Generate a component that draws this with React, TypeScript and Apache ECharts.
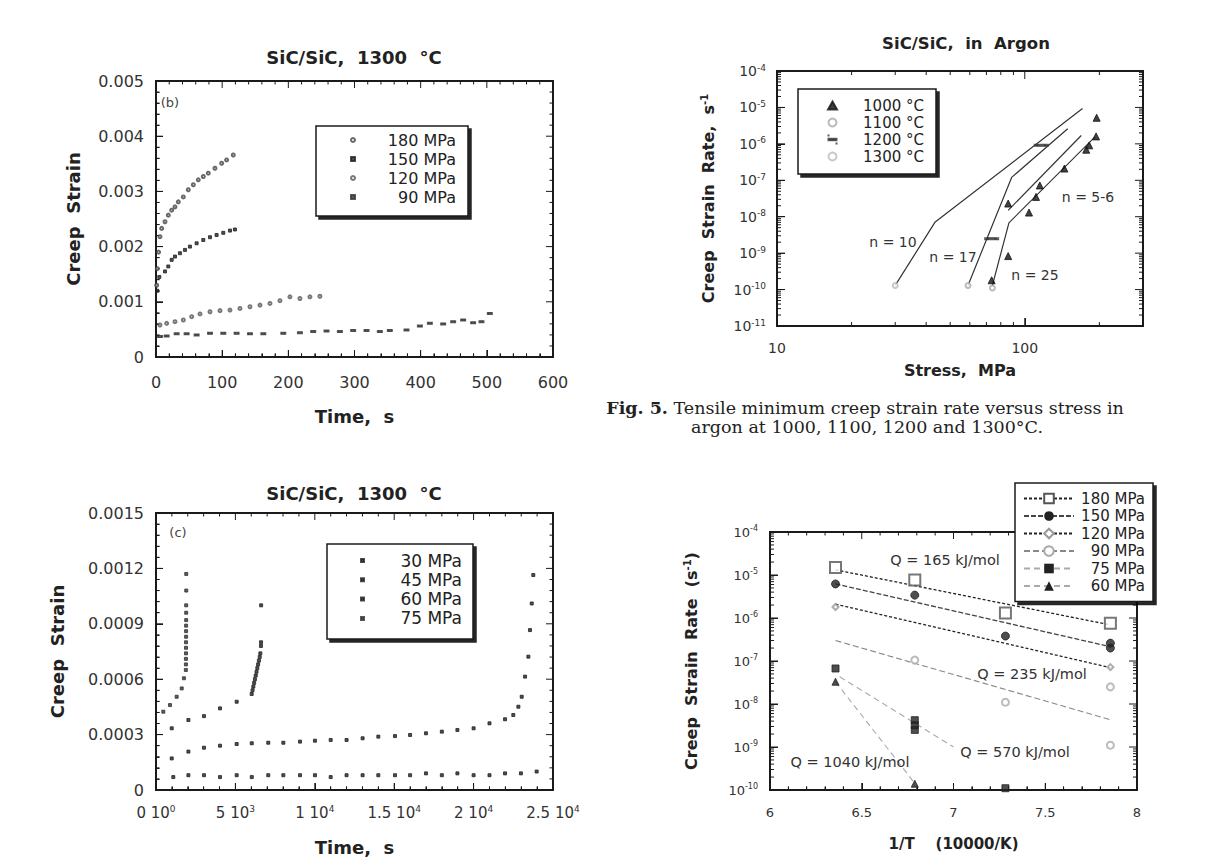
import React, { useEffect, useRef } from 'react';
import * as echarts from 'echarts';

const SANS = '"DejaVu Sans", "Liberation Sans", sans-serif';
const SERIF = '"DejaVu Serif", "Liberation Serif", serif';
const INK = '#1a1a1a';
const TXT = '#333';

// ---------- Panel (b): SiC/SiC, 1300 °C, creep strain vs time ----------
const bTime180 = [1, 2, 4, 6, 8.6, 13.6, 18.6, 23.7, 28.7, 33.7, 41.3, 48.8, 56.4, 63.9, 71.5, 79, 89.1, 99.2, 106.7, 116.8];
const bStrain180 = [0.0013, 0.0016, 0.0019, 0.00218, 0.00233, 0.00245, 0.00257, 0.00266, 0.00272, 0.00281, 0.0029, 0.00303, 0.00312, 0.00321, 0.00327, 0.00333, 0.00342, 0.00351, 0.00357, 0.00366];
const bTime150 = [2, 5, 13.6, 18.6, 23.7, 28.7, 36.2, 43.8, 51.3, 61.4, 71.5, 81.6, 91.6, 101.7, 111.8, 119.3];
const bStrain150 = [0.0012, 0.00145, 0.00155, 0.00164, 0.00176, 0.00182, 0.00188, 0.00194, 0.002, 0.00206, 0.00212, 0.00217, 0.00221, 0.00225, 0.00229, 0.00231];
const bTime120 = [6, 16.1, 28.7, 41.3, 53.9, 66.5, 81.6, 96.7, 111.8, 126.9, 142, 157.1, 172.2, 187.3, 202.4, 217.5, 232.6, 247.7];
const bStrain120 = [0.00058, 0.00061, 0.00064, 0.00067, 0.00073, 0.00078, 0.00082, 0.00084, 0.00085, 0.00088, 0.00091, 0.00094, 0.00097, 0.00102, 0.00109, 0.00106, 0.00109, 0.0011];
const bTime90 = [6, 16.1, 31.2, 46.3, 61.4, 81.6, 101.7, 121.8, 142, 162.2, 192.4, 217.5, 237.6, 257.7, 277.9, 298, 318.2, 338.3, 353.4, 378.6, 398.8, 413.9, 434, 449.1, 464.2, 479.3, 491.9, 504.5];
const bStrain90 = [0.00037, 0.00038, 0.00042, 0.00042, 0.0004, 0.00043, 0.00043, 0.00043, 0.00042, 0.00042, 0.00043, 0.00044, 0.00046, 0.00047, 0.00046, 0.00048, 0.00048, 0.00046, 0.00048, 0.00049, 0.00056, 0.00061, 0.0006, 0.00064, 0.00067, 0.00062, 0.00064, 0.00079];
const bLegend = ['180 MPa', '150 MPa', '120 MPa', '90 MPa'];

// ---------- Panel (Fig. 5): SiC/SiC in argon, rate vs stress ----------
const aLine1300 = [[30, 1.3e-10], [43.5, 7.2e-9], [171, 9.3e-6]];
const aLine1200 = [[59, 1.3e-10], [88.5, 1.2e-7], [149, 2.6e-6]];
const aLine1100 = [[74, 1.3e-10], [86.3, 6.8e-9], [192, 1.55e-6]];
const aLine1000 = [[85.7, 1.5e-8], [169, 1.7e-6]];
const aPts1000 = [[195, 5.2e-6], [194, 1.6e-6], [182, 9.1e-7], [177, 6.9e-7], [144.5, 2.1e-7], [115, 7.2e-8], [111, 3.5e-8], [104, 1.3e-8], [85.7, 2.3e-8], [85.7, 8.3e-10], [73.5, 1.8e-10]];
const aPts1100 = [[74, 1.1e-10], [59, 1.3e-10]];
const aPts1200 = [[116.6, 9.1e-7], [73.5, 2.5e-9]];
const aPts1300 = [[30, 1.3e-10]];
const aLegend = ['1000 °C', '1100 °C', '1200 °C', '1300 °C'];

// ---------- Panel (c): SiC/SiC, 1300 °C, long-time creep ----------
const cTime30 = [1090, 2040, 3020, 4030, 5080, 6030, 7070, 8020, 9070, 10010, 11000, 12000, 13010, 14000, 15050, 16000, 17000, 18000, 18980, 20000, 21000, 21980, 22980, 23970];
const cStrain30 = [0.00007, 0.00008, 0.00008, 0.00007, 0.00008, 0.00007, 0.00008, 0.00008, 0.00008, 0.00008, 0.00007, 0.00008, 0.00008, 0.00008, 0.00008, 0.00008, 0.00009, 0.00008, 0.00009, 0.00008, 0.00008, 0.00009, 0.00009, 0.0001];
const cTime45 = [990, 2040, 3020, 4030, 5080, 6030, 7070, 8020, 9070, 10010, 11000, 12000, 13010, 14000, 15050, 16000, 17000, 18000, 18980, 20000, 21000, 21980, 22500, 22820, 23030, 23240, 23450, 23550, 23660, 23760];
const cStrain45 = [0.000171, 0.000208, 0.000229, 0.00024, 0.000249, 0.000253, 0.000256, 0.000256, 0.000262, 0.000267, 0.000271, 0.000271, 0.00028, 0.000289, 0.000292, 0.000298, 0.000307, 0.000316, 0.000325, 0.000334, 0.000361, 0.000383, 0.000406, 0.000451, 0.000505, 0.000614, 0.000722, 0.000866, 0.00101, 0.001164];
const cTime60 = [990, 2040, 3020, 4030, 5080, 6025, 6080, 6130, 6180, 6230, 6280, 6330, 6380, 6430, 6480, 6530, 6570, 6610, 6615, 6620];
const cStrain60 = [0.000334, 0.000379, 0.0004, 0.000442, 0.000478, 0.00052, 0.00054, 0.00056, 0.00058, 0.0006, 0.00062, 0.00064, 0.00066, 0.00068, 0.0007, 0.00072, 0.00074, 0.00078, 0.0008, 0.001];
const cTime75 = [460, 880, 1300, 1620, 1760, 1880, 1885, 1885, 1890, 1890, 1890, 1895, 1895, 1895, 1900, 1900, 1900, 1905, 1905];
const cStrain75 = [0.000424, 0.00046, 0.000505, 0.00055, 0.000605, 0.00065, 0.00068, 0.00071, 0.00074, 0.00077, 0.0008, 0.00083, 0.00086, 0.00089, 0.00092, 0.00096, 0.001, 0.00108, 0.00117];
const cLegend = ['30 MPa', '45 MPa', '60 MPa', '75 MPa'];
const cXTickLabels = ['0 10^0', '5 10^3', '1 10^4', '1.5 10^4', '2 10^4', '2.5 10^4'];

// ---------- Panel (d): Arrhenius plot ----------
const dInvT = [6.357, 6.789, 7.283, 7.855];
const d180 = [1.5e-5, 7.7e-6, 1.3e-6, 7.5e-7];
const d150Pts = [[6.357, 6.2e-6], [6.789, 3.4e-6], [7.283, 3.8e-7], [7.855, 2.6e-7], [7.855, 2.0e-7]];
const d120Pts = [[6.357, 1.8e-6], [7.855, 7.2e-8]];
const d90Pts = [[6.789, 1.05e-7], [7.283, 1.1e-8], [7.855, 2.5e-8], [7.855, 1.1e-9]];
const d75Pts = [[6.357, 6.7e-8], [6.789, 4.2e-9], [6.789, 3.2e-9], [6.789, 2.5e-9], [7.283, 1.1e-10]];
const d60Pts = [[6.357, 3.3e-8], [6.789, 1.4e-10]];
const dFit180 = [[6.357, 1.32e-5], [7.855, 6.9e-7]];
const dFit150 = [[6.357, 6.2e-6], [7.855, 2.15e-7]];
const dFit120 = [[6.357, 2.1e-6], [7.855, 7.0e-8]];
const dFit90 = [[6.357, 3.0e-7], [7.855, 4.3e-9]];
const dFit75 = [[6.38, 4.3e-8], [7.0, 1.0e-9]];
const dFit60 = [[6.357, 3.3e-8], [6.78, 1.6e-10]];
const dLegend = ['180 MPa', '150 MPa', '120 MPa', '90 MPa', '75 MPa', '60 MPa'];

const zip = (xs: number[], ys: number[]) => xs.map((x, i) => [x, ys[i]]);

// ---------- helpers ----------
function axis(position: string, type: string, min: number, max: number, extra: any = {}) {
  const o: any = {
    gridIndex: 0, type, position, min, max,
    axisLine: { show: true, lineStyle: { color: INK, width: 2 } },
    axisTick: { show: true, inside: true, length: 7, lineStyle: { color: INK, width: 1 } },
    splitLine: { show: false },
    ...extra,
  };
  if (type === 'log') o.logBase = 10;
  return o;
}
const minor = { show: true, splitNumber: 5, length: 3.5, lineStyle: { color: INK, width: 1 } };
const supRich = (bs: number, ss: number) => ({
  b: { fontSize: bs, fontFamily: SANS, color: TXT },
  s: { fontSize: ss, fontFamily: SANS, color: TXT, padding: [0, 0, Math.round(bs * 0.5), 0] },
});
const powLabel = (v: number) => `{b|10}{s|${Math.round(Math.log10(v))}}`;
const nameStyle = (fs: number) => ({ fontFamily: SANS, fontWeight: 'bold', fontSize: fs, color: '#222' });
const lab = (fs: number, margin: number, extra: any = {}) => ({ show: true, fontFamily: SANS, fontSize: fs, color: TXT, margin, ...extra });

// tick positions along the frame (decoration, not data)
function linTicks(min: number, step: number, n: number, major: number) {
  const out: number[][] = [];
  for (let i = 0; i <= n; i++) out.push([min + i * step, i % major === 0 ? 7 : 3.5]);
  return out;
}
function logTicks(lo: number, hi: number) {
  const out: number[][] = [];
  for (let e = lo; e <= hi; e++) {
    out.push([Math.pow(10, e), 8]);
    if (e < hi) for (let m = 2; m <= 9; m++) out.push([m * Math.pow(10, e), 4]);
  }
  return out;
}
type Shift = (v: number, px: number) => number;
const linShift = (span: number, len: number): Shift => (v, px) => v + (px * span) / len;
const logShift = (decades: number, len: number): Shift => (v, px) => v * Math.pow(10, (px * decades) / len);

// frame ticks drawn as a broken line series on the panel's own axes
function tickLines(name: string, xt: number[][], yt: number[][], xr: number[], yr: number[], sx: Shift, sy: Shift) {
  const d: any[] = [];
  xt.forEach(([v, L]) => {
    d.push([v, yr[0]], [v, sy(yr[0], L)], [v, '-']);
    d.push([v, yr[1]], [v, sy(yr[1], -L)], [v, '-']);
  });
  yt.forEach(([v, L]) => {
    d.push([xr[0], v], [sx(xr[0], L), v], [xr[0], '-']);
    d.push([xr[1], v], [sx(xr[1], -L), v], [xr[1], '-']);
  });
  return {
    name, type: 'line', data: d, symbol: 'none', showSymbol: false, silent: true, z: 1, clip: false,
    connectNulls: false, lineStyle: { color: INK, width: 1 }, emphasis: { disabled: true },
  };
}
function legendBox(left: number, top: number, padding: number[], names: any[], o: any) {
  return {
    left, top, orient: 'vertical', padding, selectedMode: false,
    data: names, itemWidth: o.iw, itemHeight: o.ih, itemGap: o.gap,
    backgroundColor: '#fff', borderColor: INK, borderWidth: 1.5,
    shadowColor: 'rgba(0,0,0,0.85)', shadowOffsetX: 3, shadowOffsetY: 3, shadowBlur: 1,
    formatter: (n: string) => `{r|${n.split('#')[1]}}`,
    textStyle: { rich: { r: { width: o.tw, align: 'right', fontSize: o.fs, lineHeight: o.lh, fontFamily: SANS, color: '#222' } } },
  };
}
const DASH_ICON = 'path://M0,0h0.01v0.01h-0.01Z M0,4.2h10v1.6h-10Z M9.99,9.99h0.01v0.01h-0.01Z';
const txt = (text: string, x: number, y: number, fs: number, extra: any = {}) => ({
  type: 'text', x, y, z: 10,
  style: { text, fontFamily: SANS, fontSize: fs, fill: TXT, align: 'center', verticalAlign: 'middle', ...extra },
});
const ttl = (text: string, x: number, y: number, fs: number, extra: any = {}) => ({
  text, left: x, top: y, padding: 0, textAlign: 'center', textVerticalAlign: 'middle',
  textStyle: { fontFamily: SANS, fontSize: fs, color: TXT, fontWeight: 'normal', ...extra },
});
const gridBox = (left: number, top: number, width: number, height: number) => ({
  left, top, width, height, containLabel: false, show: true, borderColor: INK, borderWidth: 2, backgroundColor: 'transparent',
});
const dot = (name: string, data: any, symbol: string, size: any, color: string) => ({
  name, type: 'scatter', data, symbol, symbolSize: size, z: 3,
  itemStyle: { color, borderColor: color, borderWidth: 1 },
});
const line = (name: string, data: any, color: string, type: any, width = 1.2, symbol = 'none', symbolSize: any = 6, itemColor = color) => ({
  name, type: 'line', data, symbol, symbolSize, showSymbol: false,
  lineStyle: { color, type, width }, itemStyle: { color: itemColor, borderColor: itemColor }, z: 2,
});

// ---------- panel options ----------
function optB() {
  return {
    animation: false,
    grid: gridBox(156, 81, 397, 276),
    xAxis: axis('bottom', 'value', 0, 600, { interval: 100, minorTick: minor, axisLabel: lab(16, 17), name: 'Time,  s', nameLocation: 'middle', nameGap: 50, nameTextStyle: nameStyle(18) }),
    yAxis: axis('left', 'value', 0, 0.005, { interval: 0.001, minorTick: minor, axisLabel: lab(16, 12), name: 'Creep  Strain', nameLocation: 'middle', nameGap: 74, nameTextStyle: nameStyle(18) }),
    series: [
      dot('b#' + bLegend[0], zip(bTime180, bStrain180), 'emptyCircle', 3, '#444'),
      dot('b#' + bLegend[1], zip(bTime150, bStrain150), 'rect', 3, '#222'),
      dot('b#' + bLegend[2], zip(bTime120, bStrain120), 'emptyCircle', 3, '#555'),
      dot('b#' + bLegend[3], zip(bTime90, bStrain90), 'rect', [4, 2], '#333'),
      tickLines('tk-b', linTicks(0, 20, 30, 5), linTicks(0, 0.0002, 25, 5), [0, 600], [0, 0.005], linShift(600, 397), linShift(0.005, 276)),
    ],
    legend: legendBox(316, 126, [6, 12, 11, 34], bLegend.map((n, i) => ({ name: 'b#' + n, icon: i % 2 ? 'rect' : 'emptyCircle' })), { iw: 4, ih: 4, gap: 3, tw: 96, fs: 16, lh: 16 }),
    title: [
      ttl('SiC/SiC,  1300  °C', 354, 57, 18, { fontWeight: 'bold', color: '#222' }),
      ttl('(b)', 170, 102, 13, { color: '#444' }),
    ],
  };
}
function optA() {
  return {
    animation: false,
    grid: gridBox(777, 71, 366, 255),
    xAxis: axis('bottom', 'log', 10, 300, {
      axisTick: { show: true, inside: true, length: 8, lineStyle: { color: INK, width: 1 } },
      axisLabel: lab(14, 15, { formatter: (v: number) => (Math.abs(Math.log10(v) - Math.round(Math.log10(v))) < 1e-6 ? String(Math.round(v)) : '') }),
      name: 'Stress,  MPa', nameLocation: 'middle', nameGap: 36, nameTextStyle: nameStyle(16),
    }),
    yAxis: axis('left', 'log', 1e-11, 1e-4, {
      axisTick: { show: true, inside: true, length: 8, lineStyle: { color: INK, width: 1 } },
      axisLabel: lab(14, 11, { formatter: powLabel, rich: supRich(14, 9) }),
      name: 'Creep  Strain  Rate,  s{s|-1}', nameLocation: 'middle', nameGap: 60,
      nameTextStyle: { ...nameStyle(16), rich: { s: { fontSize: 10, fontWeight: 'bold', fontFamily: SANS, color: '#222', padding: [0, 0, 8, 0] } } },
    }),
    series: [
      line('a#n10', aLine1300, '#333', 'solid', 1.2),
      line('a#n17', aLine1200, '#333', 'solid', 1.2),
      line('a#n25', aLine1100, '#333', 'solid', 1.2),
      line('a#n56', aLine1000, '#333', 'solid', 1.2),
      dot('a#' + aLegend[0], aPts1000, 'triangle', 7, '#111'),
      dot('a#' + aLegend[1], aPts1100, 'emptyCircle', 5, '#aaa'),
      dot('a#' + aLegend[2], aPts1200, 'path://M0,0H12V2H0Z', [10, 2], '#333'),
      dot('a#' + aLegend[3], aPts1300, 'emptyCircle', 5, '#bbb'),
      tickLines('tk-a',
        [[10, 8], [20, 4], [30, 4], [40, 4], [50, 4], [60, 4], [70, 4], [80, 4], [90, 4], [100, 8], [200, 4]],
        logTicks(-11, -4), [10, 300], [1e-11, 1e-4], logShift(Math.log10(30), 366), logShift(7, 255)),
    ],
    legend: legendBox(798, 89, [9, 12, 10, 29], aLegend.map((n, i) => (i === 2 ? { name: 'a#' + n, icon: DASH_ICON } : { name: 'a#' + n })), { iw: 9, ih: 8, gap: 2, tw: 82, fs: 15, lh: 14 }),
    graphic: [
      txt('SiC/SiC,  in  Argon', 966, 43, 16.5, { fontWeight: 'bold', fill: '#222' }),
      txt('n = 10', 893, 242, 14),
      txt('n = 17', 953, 257, 14),
      txt('n = 25', 1035, 275, 14),
      txt('n = 5-6', 1088, 197, 14),
      {
        type: 'text', x: 865, y: 408, z: 10,
        style: {
          text: '{b|Fig. 5.} Tensile minimum creep strain rate versus stress in',
          fontFamily: SERIF, fontSize: 17.5, fill: '#222', align: 'center', verticalAlign: 'middle',
          rich: { b: { fontFamily: SERIF, fontSize: 17.5, fontWeight: 'bold', fill: '#222' } },
        },
      },
      txt('argon at 1000, 1100, 1200 and 1300°C.', 867, 427, 17.5, { fontFamily: SERIF, fill: '#222' }),
    ],
  };
}
function optC() {
  return {
    animation: false,
    grid: gridBox(156, 513, 397, 277),
    xAxis: axis('bottom', 'value', 0, 25000, {
      interval: 5000, minorTick: minor,
      axisLabel: lab(16, 14, {
        formatter: (v: number) => {
          const s = cXTickLabels[Math.round(v / 5000)] || '';
          const [a, e] = s.split('^');
          return `{b|${a}}{s|${e}}`;
        },
        rich: supRich(15, 9),
      }),
      name: 'Time,  s', nameLocation: 'middle', nameGap: 48, nameTextStyle: nameStyle(18),
    }),
    yAxis: axis('left', 'value', 0, 0.0015, { interval: 0.0003, minorTick: minor, axisLabel: lab(16, 12), name: 'Creep  Strain', nameLocation: 'middle', nameGap: 90, nameTextStyle: nameStyle(18) }),
    series: [
      dot('c#' + cLegend[0], zip(cTime30, cStrain30), 'rect', 3, '#222'),
      dot('c#' + cLegend[1], zip(cTime45, cStrain45), 'rect', 3, '#222'),
      dot('c#' + cLegend[2], zip(cTime60, cStrain60), 'rect', 3, '#222'),
      dot('c#' + cLegend[3], zip(cTime75, cStrain75), 'rect', 3, '#333'),
      tickLines('tk-c', linTicks(0, 1000, 25, 5), linTicks(0, 0.00006, 25, 5), [0, 25000], [0, 0.0015], linShift(25000, 397), linShift(0.0015, 277)),
    ],
    legend: legendBox(327, 544, [8, 11, 12, 33], cLegend.map((n) => ({ name: 'c#' + n, icon: 'rect' })), { iw: 3, ih: 3, gap: 2.3, tw: 93, fs: 17, lh: 16 }),
    title: [
      ttl('SiC/SiC,  1300  °C', 354, 493, 18, { fontWeight: 'bold', color: '#222' }),
      ttl('(c)', 178, 532, 13, { color: '#444' }),
    ],
  };
}
function optD() {
  return {
    animation: false,
    grid: gridBox(770, 532, 367, 258),
    xAxis: axis('bottom', 'value', 6, 8, { interval: 0.5, minorTick: minor, axisLabel: lab(13, 16), name: '1/T    (10000/K)', nameLocation: 'middle', nameGap: 46, nameTextStyle: nameStyle(15) }),
    yAxis: axis('left', 'log', 1e-10, 1e-4, {
      axisTick: { show: true, inside: true, length: 8, lineStyle: { color: INK, width: 1 } },
      axisLabel: lab(13, 12, { formatter: powLabel, rich: supRich(13, 8) }),
      name: 'Creep  Strain  Rate  (s{s|-1})', nameLocation: 'middle', nameGap: 70,
      nameTextStyle: { ...nameStyle(16), rich: { s: { fontSize: 10, fontWeight: 'bold', fontFamily: SANS, color: '#222', padding: [0, 0, 8, 0] } } },
    }),
    series: [
      line('d#' + dLegend[0], dFit180, '#222', [3, 2], 1.3, 'emptyRect', 11, '#555'),
      line('d#' + dLegend[1], dFit150, '#444', [5, 2], 1.3, 'circle', 8, '#222'),
      line('d#' + dLegend[2], dFit120, '#222', [3, 2], 1.3, 'emptyDiamond', 6, '#999'),
      line('d#' + dLegend[3], dFit90, '#888', [6, 3], 1.1, 'emptyCircle', 7, '#aaa'),
      line('d#' + dLegend[4], dFit75, '#aaa', [6, 4], 1.1, 'rect', 7, '#222'),
      line('d#' + dLegend[5], dFit60, '#aaa', [6, 4], 1.1, 'triangle', 7, '#222'),
      dot('d#p180', zip(dInvT, d180), 'emptyRect', 11, '#555'),
      dot('d#p150', d150Pts, 'circle', 8, '#222'),
      dot('d#p120', d120Pts, 'emptyDiamond', 6, '#999'),
      dot('d#p90', d90Pts, 'emptyCircle', 7, '#aaa'),
      dot('d#p75', d75Pts, 'rect', 7, '#222'),
      dot('d#p60', d60Pts, 'triangle', 7, '#222'),
      tickLines('tk-d', linTicks(6, 0.1, 20, 5), logTicks(-10, -4), [6, 8], [1e-10, 1e-4], linShift(2, 367), logShift(6, 258)),
    ],
    legend: legendBox(1015, 483, [8, 8, 8, 8], dLegend.map((n) => 'd#' + n), { iw: 50, ih: 12, gap: 2.5, tw: 66, fs: 15, lh: 14 }),
    graphic: [
      txt('Q = 165 kJ/mol', 945, 560, 14.5),
      txt('Q = 235 kJ/mol', 1032, 674, 14.5),
      txt('Q = 570 kJ/mol', 1015, 752, 14.5),
      txt('Q = 1040 kJ/mol', 850, 762, 14.5),
    ],
  };
}

function Panel({ build }: { build: () => any }) {
  const ref = useRef<HTMLDivElement>(null);
  useEffect(() => {
    const chart = echarts.init(ref.current!, null, { renderer: 'svg' });
    chart.setOption(build());
    return () => chart.dispose();
  }, [build]);
  return <div ref={ref} style={{ position: 'absolute', left: 0, top: 0, width: 1209, height: 864 }} />;
}

export default function App() {
  useEffect(() => {
    document.body.style.margin = '0';
  }, []);
  return (
    <div style={{ position: 'relative', width: 1209, height: 864, background: '#fff' }}>
      <Panel build={optB} />
      <Panel build={optA} />
      <Panel build={optC} />
      <Panel build={optD} />
    </div>
  );
}
